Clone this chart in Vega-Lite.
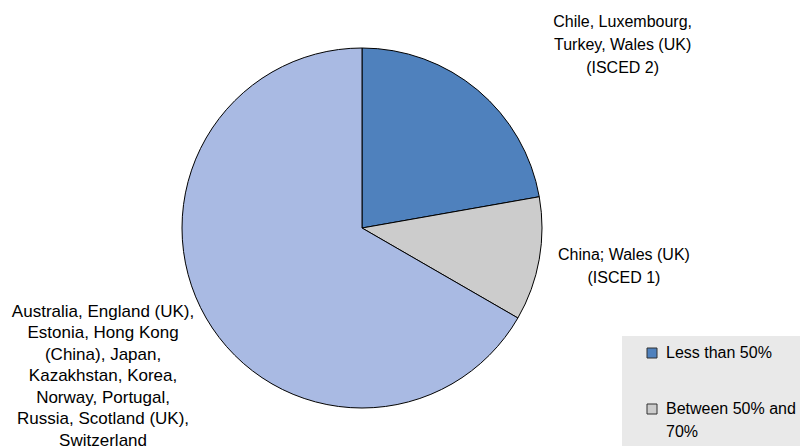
{
  "$schema": "https://vega.github.io/schema/vega-lite/v6.json",
  "width": 724,
  "height": 436,
  "autosize": {"type": "none"},
  "padding": {"left": 0, "top": 10, "right": 76, "bottom": 0},
  "background": "white",
  "config": {"view": {"stroke": null}, "font": "Liberation Sans"},
  "data": {
    "values": [
      {"category": "Less than 50%", "count": 4, "rank": 1, "label": "Chile, Luxembourg,\nTurkey, Wales (UK)\n(ISCED 2)"},
      {"category": "Between 50% and 70%", "count": 2, "rank": 2, "label": "China; Wales (UK)\n(ISCED 1)"},
      {"category": "More than 70%", "count": 12, "rank": 3, "label": "Australia, England (UK),\nEstonia, Hong Kong\n(China), Japan,\nKazakhstan, Korea,\nNorway, Portugal,\nRussia, Scotland (UK),\nSwitzerland"}
    ]
  },
  "layer": [
    {
      "mark": {"type": "arc", "outerRadius": 180, "stroke": "#000000", "strokeWidth": 1},
      "encoding": {
        "theta": {"field": "count", "type": "quantitative", "stack": true},
        "order": {"field": "rank", "type": "quantitative"},
        "color": {
          "field": "category",
          "type": "nominal",
          "sort": ["Less than 50%", "Between 50% and 70%", "More than 70%"],
          "scale": {
            "domain": ["Less than 50%", "Between 50% and 70%", "More than 70%"],
            "range": ["#4f81bd", "#cccccc", "#a9bae3"]
          },
          "legend": {
            "title": null,
            "orient": "none",
            "legendX": 622,
            "legendY": 326,
            "fillColor": "#e9e9e9",
            "padding": 9,
            "symbolOffset": 13,
            "symbolType": "square",
            "symbolSize": 100,
            "symbolStrokeColor": "#303030",
            "symbolStrokeWidth": 1,
            "labelFontSize": 16,
            "labelFont": "Liberation Sans",
            "labelColor": "#000000",
            "labelOffset": 6,
            "rowPadding": 40,
            "labelLimit": 300,
            "labelBaseline": "top",
            "labelExpr": "datum.label == 'Between 50% and 70%' ? ['Between 50% and', '70%'] : datum.label",
            "encode": {"labels": {"update": {"dy": {"value": -8}, "lineHeight": {"value": 23}}}}
          }
        }
      }
    },
    {
      "transform": [
        {"stack": "count", "groupby": [], "sort": [{"field": "rank", "order": "ascending"}], "as": ["t0", "t1"]},
        {"calculate": "(datum.t0 + datum.t1) / 2", "as": "mid"},
        {"filter": "datum.rank == 1"}
      ],
      "mark": {"type": "text", "radius": 239, "dx": 107, "dy": -23, "lineBreak": "\n", "fontSize": 16, "lineHeight": 23, "align": "center", "baseline": "middle", "color": "#000000", "font": "Liberation Sans"},
      "encoding": {
        "theta": {"field": "mid", "type": "quantitative", "stack": null},
        "text": {"field": "label"}
      }
    },
    {
      "transform": [
        {"stack": "count", "groupby": [], "sort": [{"field": "rank", "order": "ascending"}], "as": ["t0", "t1"]},
        {"calculate": "(datum.t0 + datum.t1) / 2", "as": "mid"},
        {"filter": "datum.rank == 2"}
      ],
      "mark": {"type": "text", "radius": 266, "dy": -19, "lineBreak": "\n", "fontSize": 16, "lineHeight": 23, "align": "center", "baseline": "middle", "color": "#000000", "font": "Liberation Sans"},
      "encoding": {
        "theta": {"field": "mid", "type": "quantitative", "stack": null},
        "text": {"field": "label"}
      }
    },
    {
      "transform": [
        {"stack": "count", "groupby": [], "sort": [{"field": "rank", "order": "ascending"}], "as": ["t0", "t1"]},
        {"calculate": "(datum.t0 + datum.t1) / 2", "as": "mid"},
        {"filter": "datum.rank == 3"}
      ],
      "mark": {"type": "text", "radius": 299, "dy": -66, "lineBreak": "\n", "fontSize": 17, "lineHeight": 21.5, "align": "center", "baseline": "middle", "color": "#000000", "font": "Liberation Sans"},
      "encoding": {
        "theta": {"field": "mid", "type": "quantitative", "stack": null},
        "text": {"field": "label"}
      }
    }
  ]
}
